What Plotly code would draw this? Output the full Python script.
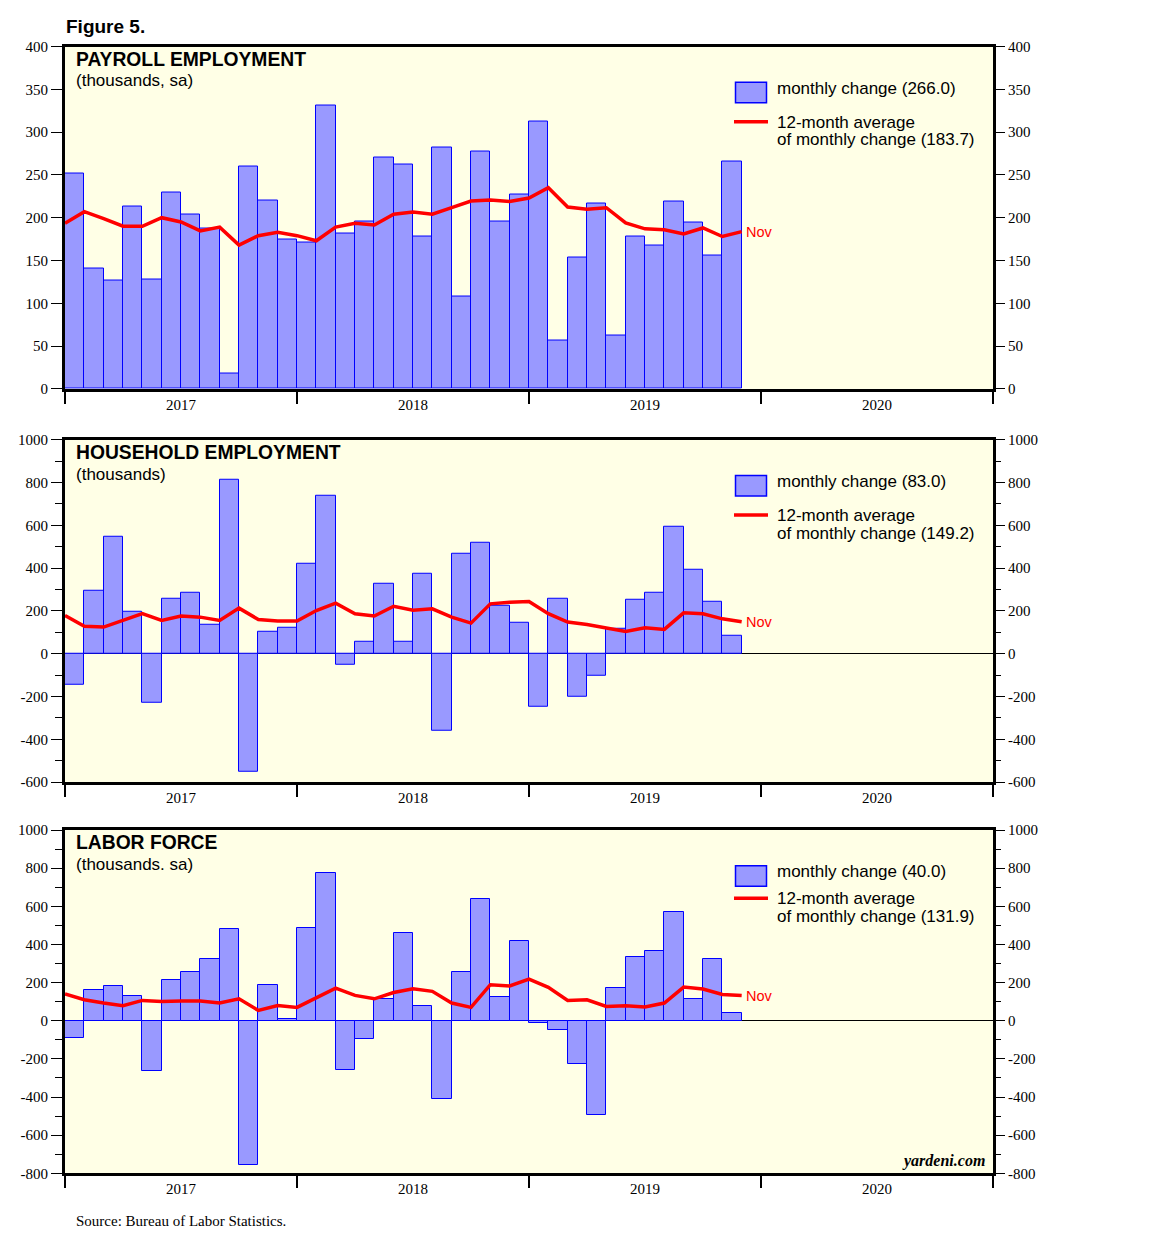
import plotly.graph_objects as go
import pandas as pd

# ---------------- data ----------------
months = [p.strftime("%Y-%m") for p in pd.period_range("2017-01", "2019-11", freq="M")]
avg_months = [p.strftime("%Y-%m") for p in pd.period_range("2016-12", "2019-11", freq="M")]
year_labels = ["2017", "2018", "2019", "2020"]

payroll = [252, 141, 127, 213, 128, 229, 204, 187, 18, 260, 220, 174,
           171, 331, 182, 196, 270, 262, 178, 282, 108, 277, 196, 227,
           312, 56, 153, 217, 62, 178, 167, 219, 194, 156, 266]
payroll_avg = [193.5, 207, 199, 190, 190, 200, 195, 184.5, 189, 168, 179, 183,
               179, 173, 189, 193.5, 191.5, 204, 206.5, 204, 211.7, 219.5, 220.6, 219,
               223, 235, 212.5, 210, 211.7, 194, 187, 186, 181, 188, 178, 183.7]

household = [-145, 294, 546, 195, -229, 257, 285, 135, 811, -551, 103, 121,
             420, 736, -51, 56, 327, 56, 373, -360, 467, 518, 224, 145,
             -247, 255, -201, -103, 117, 252, 285, 593, 392, 243, 83]
household_avg = [179, 128, 124.5, 154, 187, 155.6, 176, 171, 155.6, 213, 160, 152.5,
                 152.5, 202, 236.6, 187, 176, 222, 203, 210, 171, 143, 233, 241,
                 244, 187, 148, 137, 121, 104, 121, 113.6, 191, 187, 163, 149.2]

labor = [-89, 163, 184, 131, -262, 215, 257, 325, 482, -755, 189, 10,
         488, 776, -257, -94, 115, 461, 79, -409, 253, 640, 126, 420,
         -10, -47, -225, -493, 173, 336, 367, 572, 115, 325, 40]
labor_avg = [140, 110, 92.7, 78.7, 106.6, 101, 103, 103, 92.7, 115, 54, 80,
             70, 119, 171, 133, 115, 148, 168, 154, 92.7, 70, 189, 182,
             218.5, 175, 106.6, 110, 75, 78.7, 71.7, 92.7, 176.6, 166, 138, 131.9]

# ---------------- helpers ----------------
PAGE_MARGIN = 8          # default body margin of the html page
W, H = 1152 - 2 * PAGE_MARGIN, 1254 - 2 * PAGE_MARGIN
V_SCALE, V_SHIFT = 0.989, 6.5   # observed vertical mapping of the photographed page
SANS = "Liberation Sans, Arial, sans-serif"
SERIF = "Liberation Serif, Times New Roman, serif"
BG = "#FFFFE6"
BAR_FILL = "#9999FF"
BAR_LINE = "#0000FF"
RED = "#FF0000"
TXT_DX = -2   # annotation padding compensation


def midx(m):
    y, mo = m.split("-")
    return (int(y) - 2017) * 12 + int(mo) - 1


def xp(px):
    return (px - PAGE_MARGIN) / W


def yp(py):
    page_y = (py - V_SHIFT) / V_SCALE
    return 1 - (page_y - PAGE_MARGIN) / H


def fmt(v):
    return f"{v:d}"


panels = [
    dict(title="PAYROLL EMPLOYMENT", sub="(thousands, sa)", bars=payroll, avg=payroll_avg,
         top=45, bot=388, rng=[0, 400], dtick=50, minor=None, zero=False,
         leg=[87, 121, 138.5], legline=120.3, box=(80.7, 101.3)),
    dict(title="HOUSEHOLD EMPLOYMENT", sub="(thousands)", bars=household, avg=household_avg,
         top=439, bot=782, rng=[-600, 1000], dtick=200, minor=100, zero=True,
         leg=[481, 515, 532.5], legline=514.3, box=(474.7, 495.3)),
    dict(title="LABOR FORCE", sub="(thousands. sa)", bars=labor, avg=labor_avg,
         top=830, bot=1174, rng=[-800, 1000], dtick=200, minor=100, zero=True,
         leg=[872, 898.3, 916.5], legline=898.3, box=(865.7, 886.3)),
]

fig = go.Figure()
layout = dict(width=W, height=H, margin=dict(l=0, r=0, t=0, b=0, pad=0),
              paper_bgcolor="white", showlegend=False, bargap=0)
annotations = []
shapes = []

X0, X1 = 65, 993

for i, p in enumerate(panels):
    n = i + 1
    xa = "x" if n == 1 else f"x{n}"
    ya = "y" if n == 1 else f"y{n}"
    ra = f"y{n + 3}"
    bar_x = [midx(m) + 0.5 for m in months]
    avg_x = [midx(m) + 1 for m in avg_months]

    fig.add_trace(go.Bar(x=bar_x, y=p["bars"], width=1, xaxis=xa, yaxis=ya,
                         marker=dict(color=BAR_FILL, line=dict(color=BAR_LINE, width=1)),
                         hoverinfo="skip"))
    fig.add_trace(go.Scatter(x=avg_x, y=p["avg"], mode="lines", xaxis=xa, yaxis=ya,
                             line=dict(color=RED, width=3.5), hoverinfo="skip"))
    fig.add_trace(go.Scatter(x=[None], y=[None], xaxis=xa, yaxis=ra, mode="markers",
                             hoverinfo="skip"))

    tv = list(range(p["rng"][0], p["rng"][1] + 1, p["dtick"]))
    tt = [fmt(v) for v in tv]

    dom_y = [yp(p["bot"]), yp(p["top"])]
    layout["xaxis" if n == 1 else f"xaxis{n}"] = dict(
        domain=[xp(X0), xp(X1)], anchor=ya, range=[0, 48],
        tickmode="array", tickvals=[6, 18, 30, 42], ticktext=year_labels,
        ticks="outside", ticklen=0, tickcolor="rgba(0,0,0,0)",
        tickfont=dict(family=SERIF, size=15, color="black"),
        minor=dict(tickmode="array", tickvals=[0, 12, 24, 36, 48], ticks="outside",
                   ticklen=12, tickwidth=2, tickcolor="black"),
        showline=True, mirror=True, linewidth=3, linecolor="black",
        showgrid=False, zeroline=False, fixedrange=True)
    yax = dict(domain=dom_y, anchor=xa, range=p["rng"], tickmode="array",
               tickvals=tv, ticktext=tt,
               ticks="outside", ticklen=11, tickwidth=1, tickcolor="black",
               tickfont=dict(family=SERIF, size=15, color="black"),
               showline=True, mirror=True, linewidth=3, linecolor="black",
               showgrid=False, zeroline=p["zero"], zerolinecolor="black", zerolinewidth=1,
               fixedrange=True)
    if p["minor"]:
        yax["minor"] = dict(dtick=p["minor"], tick0=0, ticks="outside", ticklen=7,
                            tickwidth=1, tickcolor="black")
    layout["yaxis" if n == 1 else f"yaxis{n}"] = yax
    rax = dict(overlaying=ya, side="right", anchor=xa, range=p["rng"], tickmode="array",
               tickvals=tv, ticktext=tt,
               ticks="outside", ticklen=11, tickwidth=1, tickcolor="black",
               tickfont=dict(family=SERIF, size=15, color="black"),
               showline=False, showgrid=False, zeroline=False, fixedrange=True)
    if p["minor"]:
        rax["minor"] = dict(dtick=p["minor"], tick0=0, ticks="outside", ticklen=7,
                            tickwidth=1, tickcolor="black")
    layout[f"yaxis{n + 3}"] = rax

    off = p["top"] - 45
    # titles
    annotations.append(dict(text=f"<b>{p['title']}</b>", x=xp(76 + TXT_DX), y=yp(58 + off),
                            xref="paper", yref="paper", xanchor="left", yanchor="middle",
                            showarrow=False, font=dict(family=SANS, size=19.3, color="black")))
    annotations.append(dict(text=p["sub"], x=xp(76 + TXT_DX), y=yp(79.5 + off),
                            xref="paper", yref="paper", xanchor="left", yanchor="middle",
                            showarrow=False, font=dict(family=SANS, size=17, color="black")))
    # legend
    shapes.append(dict(type="rect", xref="paper", yref="paper",
                       x0=xp(735.5), x1=xp(766.5), y0=yp(p["box"][1]), y1=yp(p["box"][0]),
                       fillcolor=BAR_FILL, line=dict(color=BAR_LINE, width=1.5)))
    shapes.append(dict(type="line", xref="paper", yref="paper",
                       x0=xp(734), x1=xp(768), y0=yp(p["legline"]), y1=yp(p["legline"]),
                       line=dict(color=RED, width=3.5)))
    legtexts = [f"monthly change ({p['bars'][-1]:.1f})", "12-month average",
                f"of monthly change ({p['avg'][-1]:.1f})"]
    for t, yy in zip(legtexts, p["leg"]):
        annotations.append(dict(text=t, x=xp(777 + TXT_DX), y=yp(yy), xref="paper", yref="paper",
                                xanchor="left", yanchor="middle", showarrow=False,
                                font=dict(family=SANS, size=17, color="black")))
    # Nov label
    annotations.append(dict(text=pd.Period(avg_months[-1]).strftime("%b"),
                            x=avg_x[-1], y=p["avg"][-1], xref=xa, yref=ya,
                            xanchor="left", yanchor="middle", xshift=2, showarrow=False,
                            font=dict(family=SANS, size=14.5, color=RED)))

annotations.append(dict(text="<b>Figure 5.</b>", x=xp(66 + TXT_DX), y=yp(25), xref="paper",
                        yref="paper", xanchor="left", yanchor="middle", showarrow=False,
                        font=dict(family=SANS, size=19, color="black")))
annotations.append(dict(text="Source: Bureau of Labor Statistics.", x=xp(76 + TXT_DX), y=yp(1222),
                        xref="paper", yref="paper", xanchor="left", yanchor="middle",
                        showarrow=False, font=dict(family=SERIF, size=15, color="black")))
annotations.append(dict(text="<b><i>yardeni.com</i></b>", x=xp(987), y=yp(1162),
                        xref="paper", yref="paper", xanchor="right", yanchor="middle",
                        showarrow=False, font=dict(family=SERIF, size=16, color="black")))

layout["annotations"] = annotations
layout["shapes"] = shapes
layout["plot_bgcolor"] = BG
fig.update_layout(**layout)

fig.write_html("out.html", config={"displayModeBar": False})
